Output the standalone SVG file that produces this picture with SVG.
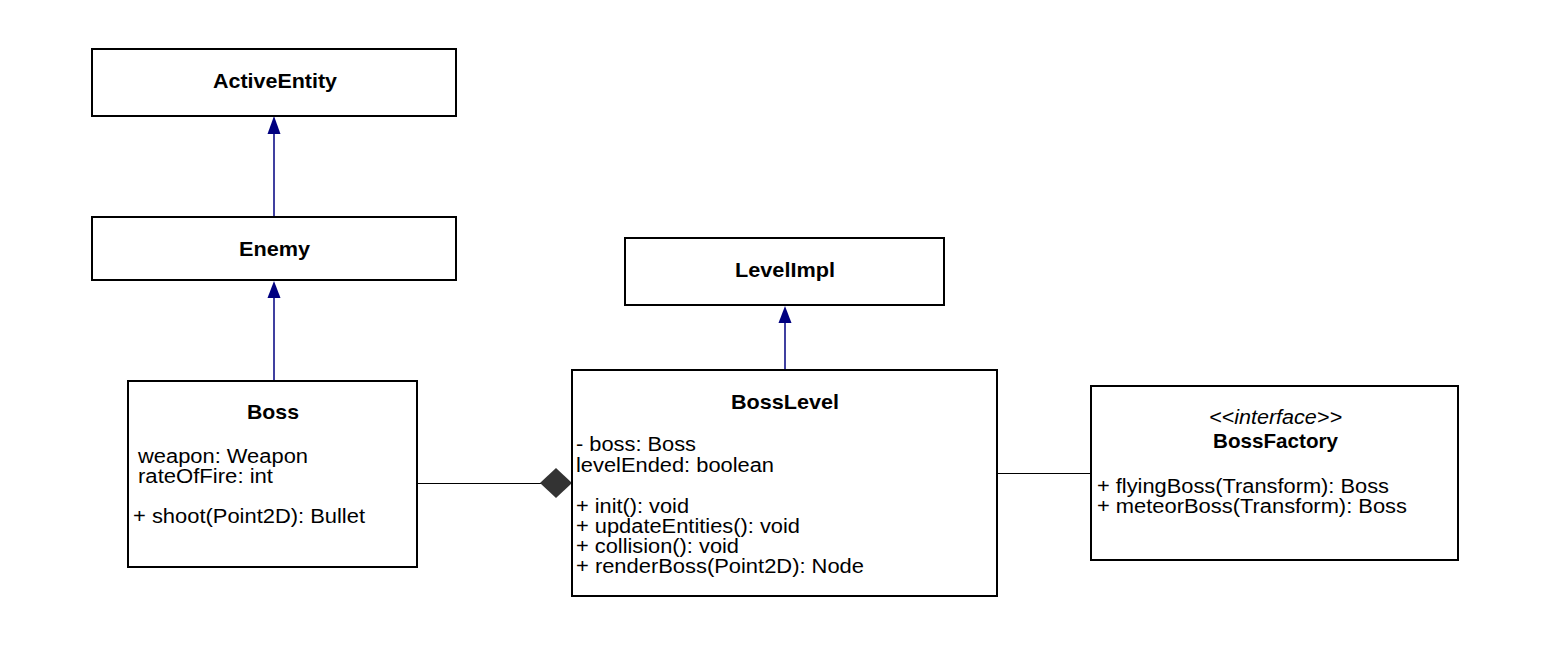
<svg xmlns="http://www.w3.org/2000/svg" width="1549" height="647" viewBox="0 0 1549 647">
<style>
.box{fill:#fff;stroke:#000;stroke-width:2}
.t{font-family:"Liberation Sans",Arial,sans-serif;font-size:20px;fill:#000}
.b{font-weight:bold;font-size:21px}
.i{font-style:italic}
.gen{stroke:#000080;stroke-width:1.5;fill:none}
.arr{fill:#000080}
.plain{stroke:#000;stroke-width:1;fill:none}
</style>
<rect width="1549" height="647" fill="#fff"/>
<g id="connectors">
<line class="gen" x1="274" y1="217" x2="274" y2="130"/>
<path class="arr" d="M274,116 L280.5,134 L267.5,134 Z"/>
<line class="gen" x1="274" y1="381" x2="274" y2="296"/>
<path class="arr" d="M274,281 L280.5,298 L267.5,298 Z"/>
<line class="gen" x1="785" y1="370" x2="785" y2="320"/>
<path class="arr" d="M785,306 L791.5,323 L778.5,323 Z"/>
<line class="plain" x1="418" y1="483.5" x2="541" y2="483.5"/>
<path d="M540,483 L556,468 L572,483 L556,498 Z" fill="#333"/>
<line class="plain" x1="997" y1="473.5" x2="1091" y2="473.5"/>
</g>
<g id="ActiveEntity">
<rect class="box" x="92" y="49" width="364" height="67"/>
<text class="t b" x="213" y="88" textLength="124" lengthAdjust="spacingAndGlyphs">ActiveEntity</text>
</g>
<g id="Enemy">
<rect class="box" x="92" y="217" width="364" height="63"/>
<text class="t b" x="239" y="256" textLength="71" lengthAdjust="spacingAndGlyphs">Enemy</text>
</g>
<g id="Boss">
<rect class="box" x="128" y="381" width="289" height="186"/>
<text class="t b" x="247" y="419" textLength="52" lengthAdjust="spacingAndGlyphs">Boss</text>
<text class="t" x="138" y="463" textLength="170" lengthAdjust="spacingAndGlyphs">weapon: Weapon</text>
<text class="t" x="138" y="483" textLength="135" lengthAdjust="spacingAndGlyphs">rateOfFire: int</text>
<text class="t" x="133" y="523" textLength="232" lengthAdjust="spacingAndGlyphs">+ shoot(Point2D): Bullet</text>
</g>
<g id="LevelImpl">
<rect class="box" x="625" y="238" width="319" height="67"/>
<text class="t b" x="735" y="277" textLength="100" lengthAdjust="spacingAndGlyphs">LevelImpl</text>
</g>
<g id="BossLevel">
<rect class="box" x="572" y="370" width="425" height="226"/>
<text class="t b" x="731" y="409" textLength="108" lengthAdjust="spacingAndGlyphs">BossLevel</text>
<text class="t" x="576" y="451" textLength="120" lengthAdjust="spacingAndGlyphs">- boss: Boss</text>
<text class="t" x="576" y="472" textLength="198" lengthAdjust="spacingAndGlyphs">levelEnded: boolean</text>
<text class="t" x="576" y="513" textLength="113" lengthAdjust="spacingAndGlyphs">+ init(): void</text>
<text class="t" x="576" y="533" textLength="224" lengthAdjust="spacingAndGlyphs">+ updateEntities(): void</text>
<text class="t" x="576" y="553" textLength="163" lengthAdjust="spacingAndGlyphs">+ collision(): void</text>
<text class="t" x="576" y="573" textLength="288" lengthAdjust="spacingAndGlyphs">+ renderBoss(Point2D): Node</text>
</g>
<g id="BossFactory">
<rect class="box" x="1091" y="386" width="367" height="174"/>
<text class="t i" x="1209" y="424" textLength="133" lengthAdjust="spacingAndGlyphs">&lt;&lt;interface&gt;&gt;</text>
<text class="t b" x="1213" y="448" textLength="125" lengthAdjust="spacingAndGlyphs">BossFactory</text>
<text class="t" x="1097" y="493" textLength="292" lengthAdjust="spacingAndGlyphs">+ flyingBoss(Transform): Boss</text>
<text class="t" x="1097" y="513" textLength="310" lengthAdjust="spacingAndGlyphs">+ meteorBoss(Transform): Boss</text>
</g>
</svg>
